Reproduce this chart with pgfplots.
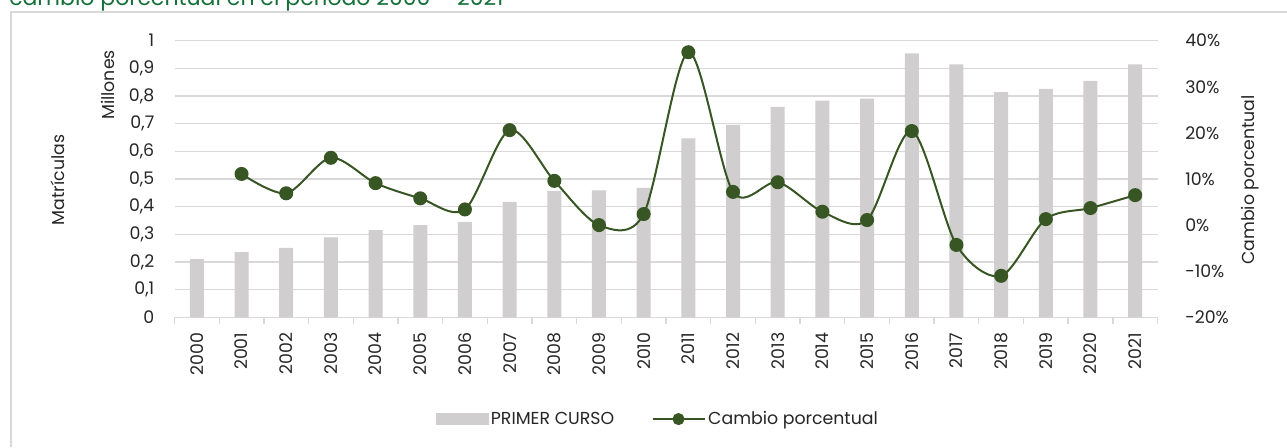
\documentclass[border=0pt]{standalone}
\usepackage{pgfplots}
\usepackage{pgfplotstable}
\pgfplotsset{compat=1.18}
\usepackage{fontspec}
\setmainfont{Poppins}
\definecolor{barcol}{HTML}{D0CECE}
\definecolor{linecol}{HTML}{375623}
\definecolor{gridcol}{HTML}{D9D9D9}
\definecolor{titlecol}{HTML}{16703A}
\definecolor{txtcol}{HTML}{262626}

\pgfplotsset{
  mylineleg/.style={legend image code/.code={\draw[mark repeat=2,mark phase=2,##1, mark size=3.75pt] plot coordinates {(0pt,0pt) (19.5pt,0pt) (39pt,0pt)};}},
  mybarleg/.style={legend image code/.code={\fill[barcol] (0pt,-4pt) rectangle (39pt,4pt);}},
}

\pgfplotstableread{
x val
0 0.210
1 0.236
2 0.251
3 0.289
4 0.315
5 0.333
6 0.345
7 0.417
8 0.457
9 0.459
10 0.468
11 0.647
12 0.696
13 0.761
14 0.783
15 0.791
16 0.954
17 0.914
18 0.814
19 0.826
20 0.855
21 0.914
}\bars

\pgfplotstableread{
x pct
1 11.1
2 6.9
3 14.6
4 9.1
5 5.8
6 3.4
7 20.6
8 9.6
9 0.0
10 2.4
11 37.5
12 7.2
13 9.3
14 2.9
15 1.1
16 20.4
17 -4.3
18 -11.0
19 1.3
20 3.7
21 6.5
}\pcts

\newcommand{\tfont}{\fontsize{13}{15}\selectfont}

\begin{document}
\begin{tikzpicture}
\begin{axis}[
  at={(130.875pt,97.275pt)}, anchor=south west,
  scale only axis, width=737.25pt, height=207.45pt,
  xmin=-0.5, xmax=21.5, ymin=0, ymax=1,
  ybar, bar width=10.5pt,
  axis x line*=bottom, axis y line*=left,
  y axis line style={draw=none},
  x axis line style={gridcol, line width=1.1pt},
  xtick={0,...,21},
  xticklabels={2000,2001,2002,2003,2004,2005,2006,2007,2008,2009,2010,2011,2012,2013,2014,2015,2016,2017,2018,2019,2020,2021},
  major tick length=0pt,
  minor xtick={-0.5,0.5,...,21.5},
  minor tick length=5.25pt,
  tick align=outside,
  minor x tick style={gridcol, line width=1pt},
  major x tick style={draw=none},
  ytick={0,0.1,...,1.01},
  yticklabels={0,{0,1},{0,2},{0,3},{0,4},{0,5},{0,6},{0,7},{0,8},{0,9},1},
  ytick style={draw=none},
  ymajorgrids, grid style={gridcol, line width=1.1pt},
  xticklabel style={yshift=-11.3pt, rotate=90, anchor=east, inner sep=0pt, font=\tfont, text=txtcol},
  yticklabel style={inner sep=0pt, xshift=-15pt, font=\tfont, text=txtcol},
]
\addplot[fill=barcol, draw=none] table[x=x, y=val] {\bars};
\end{axis}
\begin{axis}[
  at={(130.875pt,97.275pt)}, anchor=south west,
  scale only axis, width=737.25pt, height=207.45pt,
  xmin=-0.5, xmax=21.5, ymin=-20, ymax=40,
  axis x line=none,
  axis y line*=right,
  y axis line style={draw=none},
  ytick={-20,-10,...,40},
  yticklabels={-20\%,-10\%,0\%,10\%,20\%,30\%,40\%},
  ytick style={draw=none}, major tick length=0pt,
  yticklabel style={inner sep=0pt, xshift=20.6pt, font=\tfont, text=txtcol},
  legend style={at={(0.492,-0.368)}, anchor=center, draw=none, fill=none,
    legend columns=2, font=\tfont, text=txtcol,
    /tikz/every even column/.append style={column sep=26pt}},
]
\addlegendimage{mybarleg}
\addlegendentry{PRIMER CURSO}
\addplot[linecol, line width=1.5pt, smooth, tension=0.5, mark=*, mark size=4.5pt,
  mark options={fill=linecol, draw=linecol}, mylineleg]
  table[x=x, y=pct] {\pcts};
\addlegendentry{Cambio porcentual}
\end{axis}
\draw[gridcol, line width=1.2pt] (8.25pt,0pt) -- (8.25pt,326.25pt) -- (965.25pt,326.25pt);
\node[anchor=base west, inner sep=0pt, text=titlecol, font=\fontsize{16.5}{18}\selectfont] at (6.75pt,330.75pt) {cambio porcentual en el periodo 2000 – 2021};
\node[rotate=90, font=\tfont, text=txtcol] at (81pt,271.5pt) {Millones};
\node[rotate=90, font=\tfont, text=txtcol] at (43.5pt,200.25pt) {Matrículas};
\node[rotate=90, font=\tfont, text=txtcol] at (937.5pt,200.25pt) {Cambio porcentual};
\pgfresetboundingbox
\useasboundingbox (0pt,0pt) rectangle (965.25pt,335.25pt);
\end{tikzpicture}
\end{document}
